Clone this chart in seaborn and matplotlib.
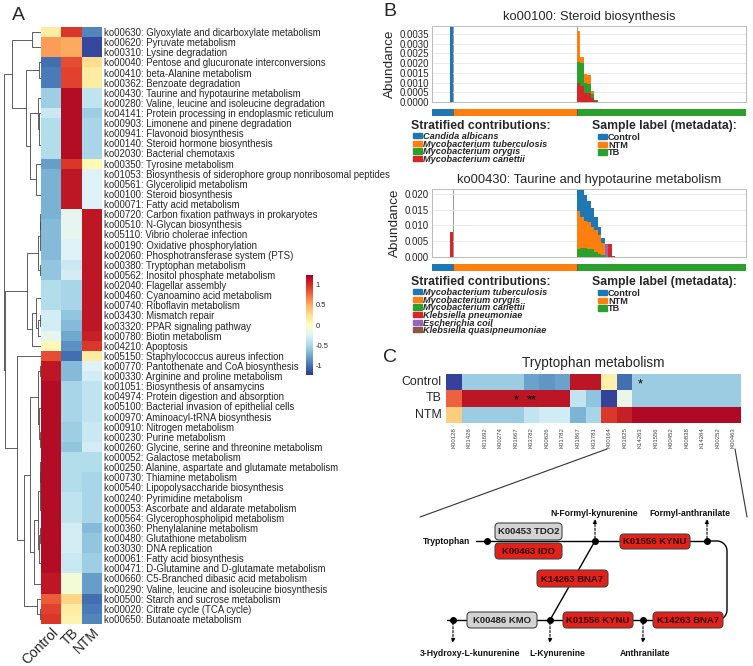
import numpy as np
import pandas as pd
import matplotlib
matplotlib.use("Agg")
import matplotlib.pyplot as plt
import seaborn as sns
from matplotlib.patches import Patch, FancyBboxPatch
from matplotlib.ticker import FormatStrFormatter

sns.set_theme(style="white")
plt.rcParams['font.family'] = ['Liberation Sans', 'DejaVu Sans']

# ============================
# A: KEGG pathway z-scores (Control, TB, NTM)
# ============================
groups = ["Control", "TB", "NTM"]
pathways = [
    "ko00630: Glyoxylate and dicarboxylate metabolism", "ko00620: Pyruvate metabolism",
    "ko00310: Lysine degradation", "ko00040: Pentose and glucuronate interconversions",
    "ko00410: beta-Alanine metabolism", "ko00362: Benzoate degradation",
    "ko00430: Taurine and hypotaurine metabolism", "ko00280: Valine, leucine and isoleucine degradation",
    "ko04141: Protein processing in endoplasmic reticulum", "ko00903: Limonene and pinene degradation",
    "ko00941: Flavonoid biosynthesis", "ko00140: Steroid hormone biosynthesis",
    "ko02030: Bacterial chemotaxis", "ko00350: Tyrosine metabolism",
    "ko01053: Biosynthesis of siderophore group nonribosomal peptides", "ko00561: Glycerolipid metabolism",
    "ko00100: Steroid biosynthesis", "ko00071: Fatty acid metabolism",
    "ko00720: Carbon fixation pathways in prokaryotes", "ko00510: N-Glycan biosynthesis",
    "ko05110: Vibrio cholerae infection", "ko00190: Oxidative phosphorylation",
    "ko02060: Phosphotransferase system (PTS)", "ko00380: Tryptophan metabolism",
    "ko00562: Inositol phosphate metabolism", "ko02040: Flagellar assembly",
    "ko00460: Cyanoamino acid metabolism", "ko00740: Riboflavin metabolism",
    "ko03430: Mismatch repair", "ko03320: PPAR signaling pathway",
    "ko00780: Biotin metabolism", "ko04210: Apoptosis",
    "ko05150: Staphylococcus aureus infection", "ko00770: Pantothenate and CoA biosynthesis",
    "ko00330: Arginine and proline metabolism", "ko01051: Biosynthesis of ansamycins",
    "ko04974: Protein digestion and absorption", "ko05100: Bacterial invasion of epithelial cells",
    "ko00970: Aminoacyl-tRNA biosynthesis", "ko00910: Nitrogen metabolism",
    "ko00230: Purine metabolism", "ko00260: Glycine, serine and threonine metabolism",
    "ko00052: Galactose metabolism", "ko00250: Alanine, aspartate and glutamate metabolism",
    "ko00730: Thiamine metabolism", "ko00540: Lipopolysaccharide biosynthesis",
    "ko00240: Pyrimidine metabolism", "ko00053: Ascorbate and aldarate metabolism",
    "ko00564: Glycerophospholipid metabolism", "ko00360: Phenylalanine metabolism",
    "ko00480: Glutathione metabolism", "ko03030: DNA replication",
    "ko00061: Fatty acid biosynthesis", "ko00471: D-Glutamine and D-glutamate metabolism",
    "ko00660: C5-Branched dibasic acid metabolism", "ko00290: Valine, leucine and isoleucine biosynthesis",
    "ko00500: Starch and sucrose metabolism", "ko00020: Citrate cycle (TCA cycle)",
    "ko00650: Butanoate metabolism",
]
control_z = [0.15, 0.55, 0.55, -1.0, -0.95, -0.95, -0.55, -0.55, -0.35, -0.45, -0.45, -0.45, -0.45,
             -0.8, -0.7, -0.7, -0.7, -0.7, -0.7, -0.65, -0.65, -0.65, -0.65, -0.6, -0.6, -0.45, -0.45,
             -0.45, -0.3, -0.3, -0.2, 0.05, 0.85, 1.1, 1.1, 1.15, 1.15, 1.15, 1.15, 1.15, 1.15, 1.15,
             1.15, 1.15, 1.15, 1.15, 1.15, 1.15, 1.15, 1.15, 1.15, 1.15, 1.15, 1.15, 1.1, 1.1, 0.8,
             0.9, 0.95]
tb_z = [0.95, 0.5, 0.5, 0.85, 0.9, 0.9, 1.15, 1.15, 1.15, 1.15, 1.15, 1.15, 1.15, 0.95, 1.1, 1.1,
        1.1, 1.1, -0.2, -0.2, -0.2, -0.25, -0.25, -0.35, -0.3, -0.5, -0.5, -0.5, -0.6, -0.65, -0.75,
        -0.85, -1.0, -0.65, -0.65, -0.5, -0.5, -0.5, -0.5, -0.55, -0.55, -0.6, -0.45, -0.45, -0.45,
        -0.45, -0.4, -0.4, -0.4, -0.3, -0.3, -0.3, -0.35, -0.35, -0.1, -0.1, 0.3, 0.15, 0.1]
ntm_z = [-0.9, -1.15, -1.15, 0.25, 0.15, 0.15, -0.4, -0.4, -0.55, -0.5, -0.5, -0.5, -0.5, 0.05, -0.25,
         -0.25, -0.25, -0.25, 1.1, 1.1, 1.1, 1.1, 1.1, 1.1, 1.1, 1.1, 1.1, 1.1, 1.1, 1.1, 1.05, 0.95,
         0.15, -0.25, -0.3, -0.4, -0.4, -0.4, -0.4, -0.35, -0.35, -0.3, -0.45, -0.45, -0.5, -0.5,
         -0.5, -0.5, -0.5, -0.65, -0.6, -0.6, -0.55, -0.55, -0.8, -0.8, -1.0, -0.95, -0.9]

# ============================
# B: stratified contributions per sample
# ============================
n_control, n_ntm, n_tb = 6, 35, 48
sample_groups = ["Control", "NTM", "TB"]

# ko00100 (values for the first TB samples, sorted)
steroid_species = ["Candida albicans", "Mycobacterium tuberculosis", "Mycobacterium orygis",
                   "Mycobacterium canettii"]
steroid_candida_control = [0.0045]
steroid_tub_tb = [0.0016, 0.0003, 0.0005, 0.0005, 0.00017, 0.0]
steroid_ory_tb = [0.0011, 0.0012, 0.0005, 0.00045, 0.0002, 0.00005]
steroid_can_tb = [0.00095, 0.0008, 0.00045, 0.00045, 0.0002, 0.00005]

# ko00430
taurine_species = ["Mycobacterium tuberculosis", "Mycobacterium orygis", "Mycobacterium canettii",
                   "Klebsiella pneumoniae", "Escherichia coil", "Klebsiella quasipneumoniae"]
taurine_tub_tb = [0.0095, 0.0087, 0.0080, 0.0068, 0.0060, 0.0042, 0.0028, 0.0015, 0, 0, 0]
taurine_ory_tb = [0.0120, 0.0097, 0.0088, 0.0084, 0.0071, 0.0069, 0.0058, 0.0040, 0, 0, 0]
taurine_can_tb = [0.0025, 0.0028, 0.0027, 0.0026, 0.0024, 0.0016, 0.0010, 0.0005, 0, 0, 0]
taurine_kpn_tb = [0, 0, 0, 0, 0, 0, 0, 0, 0, 0.0040, 0]
taurine_eco_tb = [0, 0, 0, 0, 0, 0, 0, 0, 0.0042, 0, 0]
taurine_kqu_tb = [0, 0, 0, 0, 0, 0, 0, 0, 0, 0, 0.0004]
taurine_kpn_control = [0.008]

# ============================
# C: tryptophan metabolism KOs
# ============================
trp_kos = ["K00128", "K01426", "K01692", "K00274", "K01667", "K03782", "K00626", "K01782", "K01867",
           "K03781", "K00164", "K01825", "K14263", "K01556", "K00452", "K00838", "K14264", "K00252",
           "K00463"]
trp_control = [-1.05, -0.5, -0.5, -0.5, -0.5, -0.7, -0.75, -0.7, 1.0, 1.0, 0.1, -0.9, -0.5, -0.5,
               -0.5, -0.5, -0.5, -0.5, -0.5]
trp_tb = [0.7, 1.0, 1.0, 1.0, 1.0, 1.0, 1.0, 1.0, -0.35, -0.55, -1.05, -0.15, -0.5, -0.5, -0.5,
          -0.5, -0.5, -0.5, -0.5]
trp_ntm = [0.3, -0.5, -0.5, -0.5, -0.5, -0.35, -0.28, -0.28, -0.62, -0.45, 0.85, 0.95, 1.05, 1.05,
           1.05, 1.05, 1.05, 1.05, 1.05]
trp_stars = [("Control", "K14263", "*"), ("TB", "K01667", "*"), ("TB", "K03782", "**")]

tab = sns.color_palette("tab10")

fig = plt.figure(figsize=(7.53, 6.66), dpi=100)


def box(x0, y0, x1, y1):
    # pixel box -> figure fraction
    return [x0 / 753, 1 - y1 / 666, (x1 - x0) / 753, (y1 - y0) / 666]


# ---------- A ----------
dfA = pd.DataFrame({"Control": control_z, "TB": tb_z, "NTM": ntm_z}, index=pathways)
axA = fig.add_axes(box(41, 27, 102, 624))
cax = fig.add_axes(box(306, 275, 313, 375))
sns.heatmap(dfA, ax=axA, cmap="RdYlBu_r", vmin=-1.22, vmax=1.22, cbar_ax=cax,
            xticklabels=groups, yticklabels=pathways, linewidths=0)
axA.yaxis.tick_right()
axA.tick_params(axis='y', length=0, labelsize=6.9, pad=1.5, rotation=0)
axA.tick_params(axis='x', length=0, pad=1)
axA.set_xticklabels(groups, rotation=45, ha='right', rotation_mode='anchor', fontsize=10)
axA.set_xlabel('')
axA.set_ylabel('')
cax.set_yticks([1, 0.5, 0, -0.5, -1])
cax.set_yticklabels(["1", "0.5", "0", "-0.5", "-1"])
cax.tick_params(length=0, labelsize=5.5, pad=2)

# row dendrogram: complete linkage, merging neighbours only so the row order stays
X = dfA.values
clusters = [[i] for i in range(len(X))]
heights = [0.0] * len(X)
ypos = [i + 0.5 for i in range(len(X))]
links = []
while len(clusters) > 1:
    best = None
    for k in range(len(clusters) - 1):
        d = max(np.linalg.norm(X[i] - X[j]) for i in clusters[k] for j in clusters[k + 1])
        if best is None or d < best[0]:
            best = (d, k)
    d, k = best
    h = max(d, heights[k], heights[k + 1])
    links.append((ypos[k], heights[k], ypos[k + 1], heights[k + 1], h))
    clusters[k] = clusters[k] + clusters.pop(k + 1)
    ypos[k] = (ypos[k] + ypos.pop(k + 1)) / 2
    heights[k] = h
    heights.pop(k + 1)

axD = fig.add_axes(box(1, 27, 41, 624))
for ya, ha_, yb, hb, h in links:
    axD.plot([ha_, h, h, hb], [ya, ya, yb, yb], color='#444444', lw=0.6)
axD.set_xlim(h * 1.08, 0)
axD.set_ylim(len(X), 0)
axD.axis('off')

# ---------- B ----------
n_samples = n_control + n_ntm + n_tb
bounds = [0, n_control, n_control + n_ntm, n_samples]


def place(values, start):
    arr = np.zeros(n_samples)
    arr[start:start + len(values)] = values
    return arr


def contrib(ax, sax, stacks, title, yticks, ylim, fmt):
    x = np.arange(n_samples)
    bottom = np.zeros(n_samples)
    for vals, color in stacks:
        ax.bar(x, vals, width=1, bottom=bottom, align='edge', color=color, lw=0)
        bottom = bottom + vals
    for b in bounds[1:3]:
        ax.axvline(b, color='#999999', lw=0.7, zorder=0)
    ax.set_xlim(0, n_samples)
    ax.set_ylim(*ylim)
    ax.set_yticks(yticks)
    ax.yaxis.set_major_formatter(FormatStrFormatter(fmt))
    ax.set_xticks([])
    ax.grid(axis='y', color='#e6e6e6', lw=0.6)
    ax.set_axisbelow(True)
    for s in ax.spines.values():
        s.set_color('#bbbbbb')
        s.set_linewidth(0.7)
    ax.tick_params(axis='y', length=0, labelsize=7, pad=2)
    ax.set_ylabel("Abundance", fontsize=9.7, labelpad=3)
    ax.set_title(title, fontsize=9.3, pad=4)
    for g, c in enumerate(tab[:3]):
        sax.axvspan(bounds[g], bounds[g + 1], color=c, lw=0)
    for b in bounds[1:3]:
        sax.axvline(b, color='#555555', lw=0.6)
    sax.set_xlim(0, n_samples)
    sax.axis('off')


def legends(species, y):
    # y: pixel row of the legend titles
    for px, title in [(411, "Stratified contributions:"), (592, "Sample label (metadata):")]:
        fig.text(px / 753, 1 - y / 666, title, fontsize=8.8, fontweight='bold', va='center')
    kw = dict(loc='upper left', frameon=False, handlelength=1.0, handleheight=0.5,
              handletextpad=0.1, labelspacing=-0.15, borderpad=0, borderaxespad=0)
    fig.legend([Patch(color=tab[i]) for i in range(len(species))], species,
               bbox_to_anchor=(413 / 753, 1 - (y + 6) / 666),
               prop=dict(style='italic', size=6.6, weight='bold'), **kw)
    fig.legend([Patch(color=tab[i]) for i in range(3)], sample_groups,
               bbox_to_anchor=(598 / 753, 1 - (y + 7) / 666),
               prop=dict(size=6.6, weight='bold'), **kw)


tb0 = n_control + n_ntm
ax1 = fig.add_axes(box(432, 26, 746, 102))
s1 = fig.add_axes(box(432, 109, 746, 116))
contrib(ax1, s1, [
    (place(steroid_can_tb, tb0), tab[3]),
    (place(steroid_ory_tb, tb0), tab[2]),
    (place(steroid_tub_tb, tb0), tab[1]),
    (place(steroid_candida_control, n_control - 1), tab[0]),
], "ko00100: Steroid biosynthesis", np.arange(0, 0.0036, 0.0005), (0, 0.0039), '%.4f')
legends(steroid_species, 126)

ax2 = fig.add_axes(box(432, 189, 746, 257))
s2 = fig.add_axes(box(432, 264, 746, 271))
contrib(ax2, s2, [
    (place(taurine_kqu_tb, tb0), tab[5]),
    (place(taurine_eco_tb, tb0), tab[4]),
    (place(taurine_kpn_tb, tb0) + place(taurine_kpn_control, n_control - 1), tab[3]),
    (place(taurine_can_tb, tb0), tab[2]),
    (place(taurine_ory_tb, tb0), tab[1]),
    (place(taurine_tub_tb, tb0), tab[0]),
], "ko00430: Taurine and hypotaurine metabolism", np.arange(0, 0.021, 0.005), (0, 0.0215), '%.3f')
legends(taurine_species, 282)

# ---------- C ----------
dfC = pd.DataFrame([trp_control, trp_tb, trp_ntm], index=["Control", "TB", "NTM"], columns=trp_kos)
axC = fig.add_axes(box(446, 374, 741, 423))
sns.heatmap(dfC, ax=axC, cmap="RdYlBu_r", vmin=-1.1, vmax=1.1, cbar=False, linewidths=0,
            xticklabels=trp_kos, yticklabels=list(dfC.index))
axC.tick_params(axis='y', length=0, labelsize=8.9, pad=3, rotation=0)
axC.tick_params(axis='x', length=0, labelsize=4.3, pad=3, rotation=90, labelcolor='#444444')
axC.set_title("Tryptophan metabolism", fontsize=9.8, pad=5)
for grp, ko, mark in trp_stars:
    axC.text(trp_kos.index(ko) + 0.5, list(dfC.index).index(grp) + 0.62, mark,
             ha='center', va='center', fontsize=9, color='black')

# ---------- overlay: panel letters, zoom lines and pathway sketch ----------
ov = fig.add_axes([0, 0, 1, 1])
ov.set_xlim(0, 753)
ov.set_ylim(666, 0)
ov.axis('off')
for letter, (px, py) in {"A": (12, 16), "B": (383, 12), "C": (383, 357)}.items():
    ov.text(px, py, letter, fontsize=14, ha='left', va='center')

ov.plot([607, 420], [449, 517], color='#333333', lw=0.8)
ov.plot([735, 747], [449, 517], color='#333333', lw=0.8)

# backbone lines
ov.plot([476, 707], [541, 541], color='black', lw=1.0, zorder=1)
ov.plot([447, 653], [620, 620], color='black', lw=1.0, zorder=1)
ov.plot([595, 550], [541, 620], color='black', lw=1.0, zorder=1)
t = np.linspace(0, np.pi / 2, 15)
curve_x = np.concatenate([[707], 717 + 10 * np.sin(t), 717 + 10 * np.cos(t)])
curve_y = np.concatenate([[541], 551 - 10 * np.cos(t), 610 + 10 * np.sin(t)])
ov.plot(curve_x, curve_y, color='black', lw=1.0, zorder=1)

red, grey = '#e32119', '#d3d3d3'
enzymes = [
    (495, 523, 562, 540, "K00453 TDO2", grey), (495, 543, 562, 559, "K00463 IDO", red),
    (620, 534, 690, 549, "K01556 KYNU", red), (537, 570, 608, 587, "K14263 BNA7", red),
    (467, 612, 537, 628, "K00486 KMO", grey), (563, 612, 633, 628, "K01556 KYNU", red),
    (653, 612, 723, 628, "K14263 BNA7", red),
]
for x0, y0, x1, y1, lab, fc in enzymes:
    ov.add_patch(FancyBboxPatch((x0, y0), x1 - x0, y1 - y0, boxstyle="round,pad=0,rounding_size=4",
                                fc=fc, ec='#444444', lw=0.8, zorder=3))
    ov.text((x0 + x1) / 2, (y0 + y1) / 2 + 0.5, lab, ha='center', va='center', fontsize=6.8,
            fontweight='bold', color='#2a0000' if fc == red else '#222222', zorder=4)

for px, py in [(487, 541), (595, 541), (707, 541), (453, 620), (550, 620), (643, 620)]:
    ov.plot(px, py, 'o', ms=4, color='black', zorder=5)
for px, y0, y1 in [(595, 541, 519), (707, 541, 519), (453, 620, 643), (550, 620, 643), (643, 620, 643)]:
    ov.annotate('', xy=(px, y1), xytext=(px, y0),
                arrowprops=dict(arrowstyle='-|>', ls=(0, (2, 1.5)), lw=0.8, color='black',
                                mutation_scale=6, shrinkA=2, shrinkB=0))

compounds = [("Tryptophan", 447, 542), ("N-Formyl-kynurenine", 594, 513),
             ("Formyl-anthranilate", 690, 513), ("3-Hydroxy-L-kunurenine", 470, 653),
             ("L-Kynurenine", 557, 653), ("Anthranilate", 645, 653)]
for name, px, py in compounds:
    ov.text(px, py, name, ha='center', va='center', fontsize=6.2, fontweight='bold', color='#111111')

fig.savefig("out.png", dpi=100)
